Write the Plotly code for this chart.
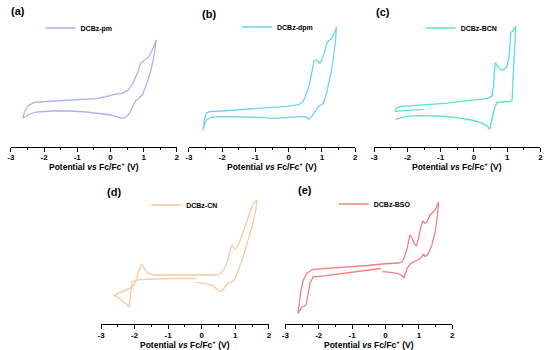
import plotly.graph_objects as go

# ---------------- data (potential in V vs Fc/Fc+, current in arbitrary units) ----------------
tick_vals = [-3, -2, -1, 0, 1, 2]
tick_text = ["-3", "-2", "-1", "0", "1", "2"]
panel_labels = ["(a)", "(b)", "(c)", "(d)", "(e)"]
series_names = ["DCBz-pm", "DCBz-dpm", "DCBz-BCN", "DCBz-CN", "DCBz-BSO"]
x_title = "Potential <i>vs</i> Fc/Fc<sup>+</sup> (V)"

pm_potential = [-2.64, -2.59, -2.49, -2.32, -1.72, -1.03, -0.43, -0.13, 0.12, 0.36, 0.54, 0.68, 0.81, 0.91,
                1.01, 1.16, 1.26, 1.38, 1.31, 1.21, 1.08, 0.96, 0.84, 0.76, 0.66, 0.56, 0.44, 0.34, 0.21,
                0.02, -0.23, -0.73, -1.22, -1.72, -2.22, -2.43, -2.57, -2.64]
pm_current = [2.84, 3.50, 4.07, 4.40, 4.57, 4.67, 4.80, 5.00, 5.24, 5.34, 5.67, 6.34, 7.34, 8.34,
              8.60, 9.00, 9.67, 10.67, 9.00, 7.50, 6.17, 5.17, 4.80, 4.60, 3.94, 3.27, 2.90, 2.84, 3.00,
              3.17, 3.27, 3.47, 3.57, 3.57, 3.47, 3.27, 3.00, 2.84]

dpm_potential = [-2.57, -2.54, -2.48, -2.38, -2.03, -1.24, -0.64, -0.05, 0.30, 0.43, 0.52, 0.62, 0.70, 0.76,
                 0.84, 0.94, 1.02, 1.10, 1.16, 1.29, 1.37, 1.44, 1.39, 1.29, 1.14, 1.04, 0.89, 0.79, 0.69,
                 0.59, 0.52, 0.35, -0.05, -0.45, -0.84, -1.44, -2.03, -2.33, -2.47, -2.54, -2.57]
dpm_current = [1.67, 2.67, 3.34, 3.50, 3.57, 3.74, 3.87, 4.04, 4.20, 4.50, 5.17, 6.17, 7.50, 8.60,
               8.67, 8.34, 8.84, 9.84, 10.43, 10.84, 11.34, 12.0, 10.0, 7.67, 5.34, 4.34, 4.00, 3.50, 3.00,
               2.74, 3.00, 3.00, 2.94, 2.84, 2.94, 3.00, 3.00, 2.94, 2.67, 2.17, 1.67]

bcn_potential = [-1.52, -1.96, -2.26, -2.36, -2.34, -2.24, -1.86, -1.37, -0.87, -0.38, 0.12, 0.42, 0.54, 0.59,
                 0.61, 0.64, 0.71, 0.79, 0.89, 0.99, 1.06, 1.09, 1.11, 1.19, 1.26, 1.25, 1.21, 1.18, 1.15,
                 1.06, 0.81, 0.69, 0.63, 0.57, 0.52, 0.47, 0.40, 0.22, -0.08, -0.57, -1.07, -1.66, -2.06,
                 -2.26, -2.36]
bcn_current = [3.74, 3.67, 3.60, 3.54, 3.80, 4.00, 4.10, 4.20, 4.34, 4.54, 4.70, 4.84, 5.07, 6.00,
               7.34, 8.40, 8.07, 7.74, 7.67, 8.00, 9.00, 10.67, 11.40, 11.67, 12.07, 11.34, 9.34, 7.00, 4.67,
               4.50, 4.47, 4.40, 3.94, 3.00, 2.17, 1.74, 2.07, 2.40, 2.67, 2.94, 3.07, 3.10, 3.00,
               2.87, 2.74]

cn_potential = [-0.18, -0.79, -1.38, -1.87, -2.07, -2.11, -2.14, -2.17, -2.24, -2.36, -2.51, -2.61, -2.46,
                -2.31, -2.17, -2.02, -1.94, -1.87, -1.80, -1.73, -1.63, -1.43, -0.99, -0.40, 0.19, 0.43,
                0.58, 0.68, 0.76, 0.83, 0.89, 0.97, 1.02, 1.09, 1.17, 1.29, 1.41, 1.54, 1.64, 1.62, 1.51,
                1.36, 1.22, 1.09, 0.97, 0.87, 0.76, 0.68, 0.58, 0.48, 0.33, 0.09, -0.16]
cn_current = [4.55, 4.57, 4.50, 4.43, 4.23, 3.23, 2.23, 1.73, 1.97, 2.30, 2.67, 2.87, 3.10,
              3.30, 3.53, 3.90, 4.57, 5.40, 6.00, 5.67, 5.13, 4.90, 4.90, 4.87, 4.87, 4.90,
              5.10, 5.57, 6.23, 7.07, 7.90, 7.57, 7.50, 7.90, 8.73, 9.73, 10.90, 12.07, 12.40, 11.57, 9.90,
              8.23, 6.57, 5.40, 4.40, 4.17, 4.07, 3.63, 3.25, 3.40, 3.83, 4.03, 4.17]

bso_potential = [-0.14, -0.54, -1.03, -1.52, -2.01, -2.16, -2.26, -2.31, -2.35, -2.37, -2.42, -2.50, -2.57,
                 -2.62, -2.61, -2.58, -2.53, -2.46, -2.36, -2.16, -2.01, -1.52, -1.03, -0.54, -0.09, 0.40,
                 0.50, 0.57, 0.65, 0.70, 0.73, 0.80, 0.87, 0.93, 0.99, 1.06, 1.12, 1.18, 1.24, 1.32, 1.39,
                 1.49, 1.59, 1.56, 1.49, 1.39, 1.29, 1.19, 1.14, 1.06, 0.96, 0.85, 0.73, 0.65, 0.60, 0.55,
                 0.47, 0.35, 0.16, -0.09]
bso_current = [5.55, 5.37, 5.17, 4.97, 4.73, 4.73, 4.07, 3.20, 2.40, 2.00, 1.80, 1.70, 1.35,
               1.05, 1.40, 2.23, 3.40, 4.40, 5.07, 5.47, 5.50, 5.60, 5.72, 5.85, 6.00, 6.10,
               6.25, 6.73, 7.57, 8.40, 8.90, 8.57, 7.97, 7.83, 8.57, 9.73, 10.30, 10.07, 10.17, 10.83, 11.07,
               11.40, 12.23, 10.90, 9.23, 7.90, 7.07, 6.73, 6.97, 6.63, 6.37, 6.23, 5.97, 5.57, 5.07, 4.63,
               4.90, 5.07, 5.17, 5.23]

series_colors = ["#a9b3ef", "#72d3ef", "#55e3cc", "#f9c9a2", "#f08080"]

potentials = [pm_potential, dpm_potential, bcn_potential, cn_potential, bso_potential]
currents = [pm_current, dpm_current, bcn_current, cn_current, bso_current]

# ---------------- layout geometry ----------------
W, H = 550, 350
x_domains = [[7 / W, 175 / W], [187.3 / W, 355.7 / W], [375 / W, 543.3 / W],
             [98.3 / W, 268.3 / W], [285 / W, 454 / W]]
top_row = [1 - 146.7 / H, 1 - 16.7 / H]
bot_row = [1 - 324 / H, 1 - 194 / H]
y_domains = [top_row, top_row, top_row, bot_row, bot_row]
title_y = [167, 167, 167, 344, 344]
label_pos = [(5, 11), (199, 14), (375, 12), (102, 192), (296, 190)]
legend_pos = [(37, 28), (236, 27), (422, 28), (144, 205), (334, 204)]

FONT = "Liberation Sans, Arial, sans-serif"
fig = go.Figure()
layout = dict(width=W, height=H, margin=dict(l=0, r=0, t=0, b=0),
              paper_bgcolor="white", plot_bgcolor="white",
              font=dict(family=FONT, color="black"), annotations=[])

for i in range(5):
    sfx = "" if i == 0 else str(i + 1)
    leg = "legend" if i == 0 else "legend" + str(i + 1)
    fig.add_trace(go.Scatter(
        x=potentials[i], y=currents[i], mode="lines", name=series_names[i],
        line=dict(color=series_colors[i], width=1.3),
        xaxis="x" + sfx, yaxis="y" + sfx, legend=leg, showlegend=True))
    layout["xaxis" + sfx] = dict(
        domain=x_domains[i], anchor="y" + sfx, range=[-3, 2],
        tickmode="array", tickvals=tick_vals, ticktext=tick_text,
        ticks="outside", ticklen=4, tickwidth=1, tickcolor="black", ticklabelstandoff=-1,
        minor=dict(dtick=0.5, tick0=0, ticks="outside", ticklen=2, tickcolor="black"),
        showline=True, linecolor="black", linewidth=1, showgrid=False, zeroline=False,
        tickfont=dict(family=FONT, size=8, color="black", weight="bold"),
        fixedrange=True)
    layout["yaxis" + sfx] = dict(domain=y_domains[i], anchor="x" + sfx, range=[0, 13],
                                 visible=False, fixedrange=True)
    lx, ly = legend_pos[i]
    layout[leg] = dict(x=lx / W, y=1 - ly / H, xanchor="left", yanchor="middle",
                       bgcolor="rgba(0,0,0,0)", borderwidth=0, itemwidth=30,
                       font=dict(family=FONT, size=7, color="black", weight="bold"))
    px, py = label_pos[i]
    layout["annotations"].append(dict(
        text="<b>" + panel_labels[i] + "</b>", xref="paper", yref="paper",
        x=px / W, y=1 - py / H, xanchor="left", yanchor="middle", showarrow=False,
        font=dict(family=FONT, size=11, color="black")))
    # x-axis title of this panel
    layout["annotations"].append(dict(
        text="<b>" + x_title + "</b>", xref="x" + sfx + " domain", yref="paper",
        x=0.5, y=1 - title_y[i] / H, xanchor="center", yanchor="middle", showarrow=False,
        font=dict(family=FONT, size=8.5, color="black")))

fig.update_layout(**layout)
fig.write_html("out.html", config={"displayModeBar": False},
               post_script="document.body.style.margin='0';document.body.style.padding='0';")
